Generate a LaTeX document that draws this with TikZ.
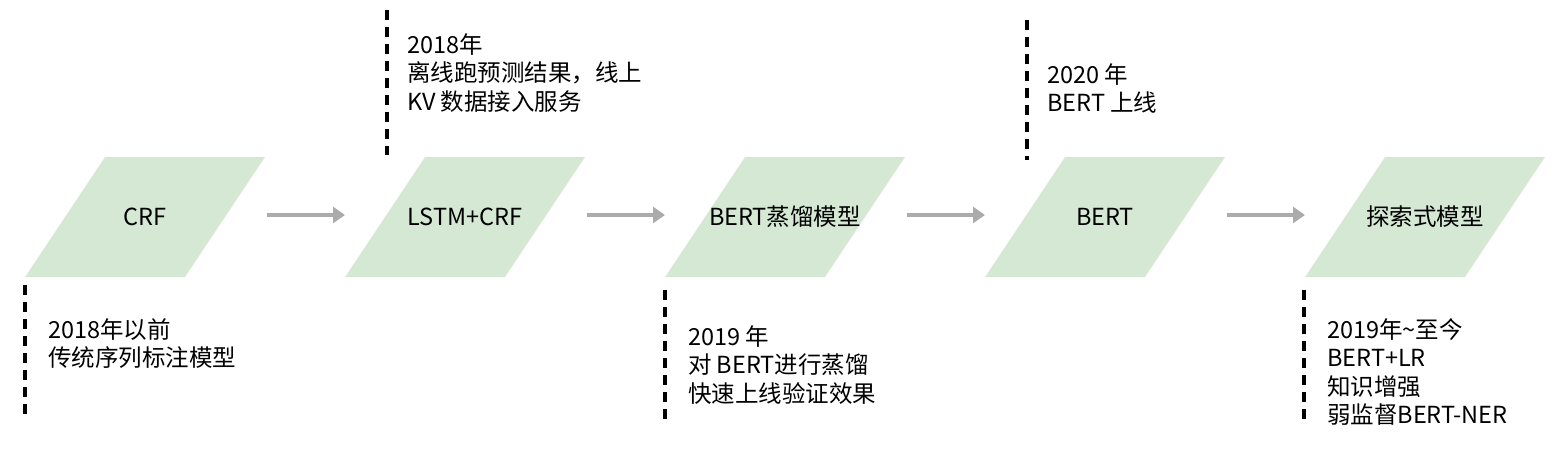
\documentclass[tikz,border=0pt]{standalone}
\usepackage{fontspec}
\setmainfont{Noto Sans CJK SC}
\usetikzlibrary{arrows.meta}
\definecolor{boxg}{HTML}{D5E8D4}
\definecolor{arrg}{HTML}{ABABAB}
\tikzset{
 para/.style={fill=boxg,draw=none},
 lbl/.style={font=\fontsize{23.5}{23.5}\selectfont,text=black},
 note/.style={anchor=north west,align=left,inner sep=0pt,font=\fontsize{23.5}{28.5}\selectfont},
 dl/.style={line width=3.5pt,dash pattern=on 10pt off 7pt},
 ar/.style={draw=arrg,line width=3.5pt,-{Triangle[length=12pt,width=16pt]}}
}
\begin{document}
\begin{tikzpicture}[x=1pt,y=-1pt]
\useasboundingbox (0,0) rectangle (1564,452);
\foreach \i/\c/\t in {1/145/CRF,2/465/LSTM+CRF,3/785/BERT蒸馏模型,4/1105/BERT,5/1425/探索式模型}{
  \fill[para] (\c-40,157) -- (\c+120,157) -- (\c+40,277) -- (\c-120,277) -- cycle;
  \node[lbl] (b\i) at (\c,217) {\t};
}
\draw[ar] (267,215) -- (345,215);
\draw[ar] (587,215) -- (665,215);
\draw[ar] (907,215) -- (985,215);
\draw[ar] (1227,215) -- (1305,215);
\draw[dl] (25,285) -- (25,415);
\node[note] (n1) at (48,318) {2018年以前\\传统序列标注模型};
\draw[dl] (387,10) -- (387,155);
\node[note] (n2) at (407,33) {2018年\\离线跑预测结果，线上\\KV 数据接入服务};
\draw[dl] (665,290) -- (665,420);
\node[note] (n3) at (688,325) {2019 年\\对 BERT进行蒸馏\\快速上线验证效果};
\draw[dl] (1027,20) -- (1027,160);
\node[note] (n4) at (1047,63) {2020 年\\BERT 上线};
\draw[dl] (1304,290) -- (1304,425);
\node[note] (n5) at (1327,318) {2019年\textasciitilde 至今\\BERT+LR\\知识增强\\弱监督BERT-NER};
\end{tikzpicture}
\end{document}
